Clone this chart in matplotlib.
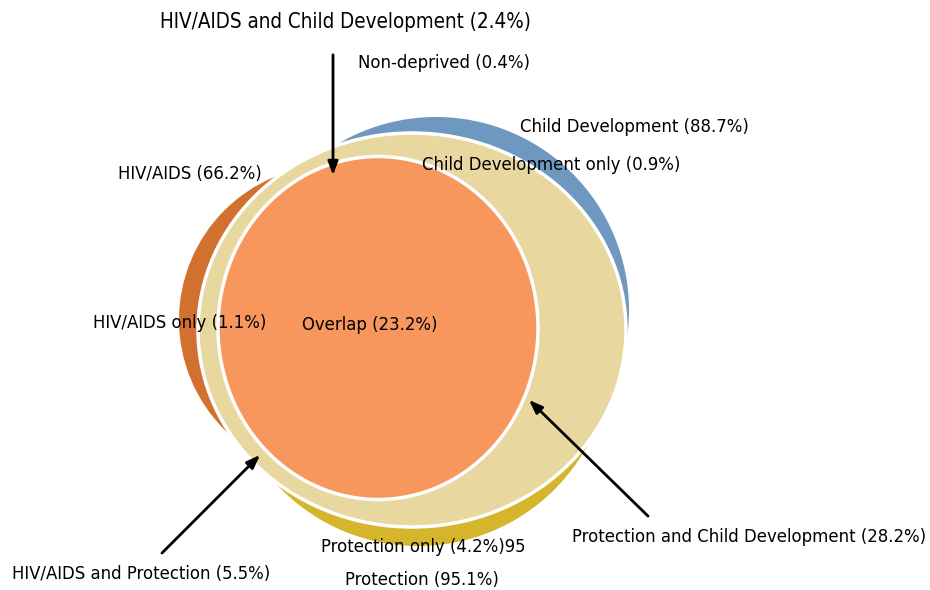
import matplotlib
matplotlib.use("Agg")
from matplotlib import pyplot as plt
from matplotlib import font_manager as fm
from matplotlib.patches import Ellipse

# pick a narrow face if one is around, otherwise DejaVu Sans
narrow = None
for f in fm.fontManager.ttflist:
    if ('Narrow' in f.name or 'Condensed' in f.name or f.stretch in ('condensed', 'semi-condensed')) \
            and f.style == 'normal' and f.weight in (400, 'normal', 'regular'):
        narrow = f
        break
if narrow is not None:
    font = fm.FontProperties(fname=narrow.fname)
else:
    font = fm.FontProperties(family='DejaVu Sans')

# shares of children (%)
groups = ['Non-deprived', 'Child Development', 'Child Development only', 'HIV/AIDS',
          'HIV/AIDS only', 'Overlap', 'Protection only', 'Protection']
shares = [0.4, 88.7, 0.9, 66.2, 1.1, 23.2, 4.2, 95.1]
pairs = ['HIV/AIDS and Child Development', 'HIV/AIDS and Protection',
         'Protection and Child Development']
pair_shares = [2.4, 5.5, 28.2]

blue = '#6E98BF'
darkorange = '#D2712F'
gold = '#D4B52C'
beige = '#E8D8A0'
orange = '#F7975D'

fig = plt.figure(figsize=(9.3, 5.9), dpi=100)
ax = fig.add_axes([0, 0, 1, 1])
ax.set_xlim(0, 930)
ax.set_ylim(590, 0)
ax.axis('off')

# set circles, back to front
ax.add_patch(Ellipse((436, 310), 386, 386, facecolor=blue, edgecolor='none'))
ax.add_patch(Ellipse((418, 353), 386, 386, facecolor=gold, edgecolor='none'))
ax.add_patch(Ellipse((334, 320), 310, 310, facecolor=darkorange, edgecolor='none'))
ax.add_patch(Ellipse((412, 330), 428, 394, facecolor=beige, edgecolor='white', lw=2.5))
ax.add_patch(Ellipse((378, 328), 320, 343, facecolor=orange, edgecolor='white', lw=2.5))

# size the labels so "Non-deprived (0.4%)" is about 172 px wide, as in the original
renderer = fig.canvas.get_renderer()
probe = ax.text(0, 0, 'Non-deprived (0.4%)', fontproperties=font, fontsize=10)
w10 = probe.get_window_extent(renderer).width
probe.remove()
fs = min(16, 10 * 172 / w10)

lab = dict(zip(groups, shares))


def txt(s, x, y, size=fs):
    ax.text(x, y, s, ha='left', va='center', fontproperties=font, fontsize=size, color='black')


txt('{} ({}%)'.format(pairs[0], pair_shares[0]), 160, 22, size=fs * 1.12)
txt('Non-deprived ({}%)'.format(lab['Non-deprived']), 358, 63)
txt('Child Development ({}%)'.format(lab['Child Development']), 520, 127)
txt('Child Development only ({}%)'.format(lab['Child Development only']), 422, 165)
txt('HIV/AIDS ({}%)'.format(lab['HIV/AIDS']), 118, 174)
txt('HIV/AIDS only ({}%)'.format(lab['HIV/AIDS only']), 93, 323)
txt('Overlap ({}%)'.format(lab['Overlap']), 302, 325)
txt('Protection only ({}%)95'.format(lab['Protection only']), 321, 547)
txt('Protection ({}%)'.format(lab['Protection']), 345, 580)
txt('{} ({}%)'.format(pairs[1], pair_shares[1]), 12, 574)
txt('{} ({}%)'.format(pairs[2], pair_shares[2]), 572, 537)

arrow = dict(arrowstyle='-|>,head_length=0.8,head_width=0.3', color='black', lw=2)
ax.annotate('', xy=(333, 178), xytext=(333, 52), arrowprops=arrow)
ax.annotate('', xy=(262, 453), xytext=(160, 555), arrowprops=arrow)
ax.annotate('', xy=(527, 398), xytext=(650, 518), arrowprops=arrow)

plt.savefig('out.png', dpi=100)
